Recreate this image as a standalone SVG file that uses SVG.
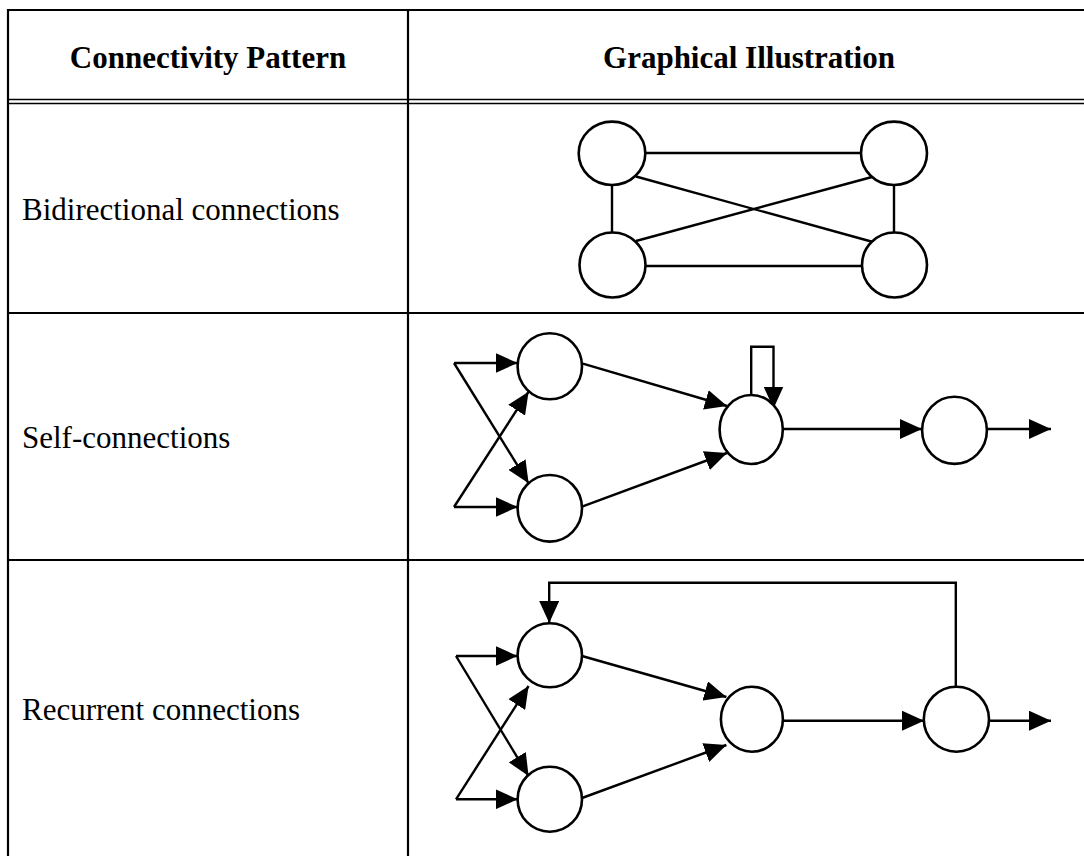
<svg xmlns="http://www.w3.org/2000/svg" width="1084" height="858" viewBox="0 0 1084 858">
<style>
.grid{stroke:#000;stroke-width:2.2;fill:none}
.hdr{font-family:"Liberation Serif","Times New Roman",serif;font-size:31px;font-weight:bold;fill:#000}
.lbl{font-family:"Liberation Serif","Times New Roman",serif;font-size:31px;fill:#000}
.node{fill:#fff;stroke:#000;stroke-width:2.6}
.edge{stroke:#000;stroke-width:2.4;fill:none}
.arr{marker-end:url(#ah)}
</style>
<defs>
<marker id="ah" markerUnits="userSpaceOnUse" markerWidth="22" markerHeight="20" refX="22" refY="10" orient="auto">
<path d="M0,0 L22,10 L0,20 z" fill="#000"/>
</marker>
</defs>
<rect width="1084" height="858" fill="#fff"/>
<g id="table">
<line class="grid" x1="8" y1="10" x2="1084" y2="10"/>
<line class="grid" x1="8" y1="99.5" x2="1084" y2="99.5" style="stroke-width:1.7"/>
<line class="grid" x1="8" y1="103.5" x2="1084" y2="103.5" style="stroke-width:1.7"/>
<line class="grid" x1="8" y1="313" x2="1084" y2="313"/>
<line class="grid" x1="8" y1="560" x2="1084" y2="560"/>
<line class="grid" x1="8" y1="9" x2="8" y2="856"/>
<line class="grid" x1="408" y1="9" x2="408" y2="856"/>
<text class="hdr" x="208" y="68" text-anchor="middle">Connectivity Pattern</text>
<text class="hdr" x="749" y="68" text-anchor="middle">Graphical Illustration</text>
<text class="lbl" x="22" y="220">Bidirectional connections</text>
<text class="lbl" x="22" y="448">Self-connections</text>
<text class="lbl" x="22" y="720">Recurrent connections</text>
</g>
<g id="connectors">
<line class="edge" x1="645" y1="153" x2="861" y2="153"/>
<line class="edge" x1="645" y1="266" x2="861" y2="266"/>
<line class="edge" x1="612" y1="185" x2="612" y2="233"/>
<line class="edge" x1="894" y1="185" x2="894" y2="233"/>
<line class="edge" x1="636" y1="176.5" x2="873" y2="242"/>
<line class="edge" x1="636" y1="241" x2="872" y2="177"/>
<line class="edge arr" x1="454" y1="363" x2="517.6" y2="363"/>
<line class="edge arr" x1="454" y1="507" x2="517.6" y2="507"/>
<line class="edge arr" x1="454" y1="363" x2="528.6" y2="483.3"/>
<line class="edge arr" x1="454" y1="507" x2="528.6" y2="391.7"/>
<line class="edge arr" x1="582" y1="363.3" x2="727" y2="406"/>
<line class="edge arr" x1="582" y1="506.7" x2="727" y2="453"/>
<polyline class="edge arr" points="751.2,395 751.2,346.7 773.5,346.7 773.5,408.5"/>
<line class="edge arr" x1="783" y1="429" x2="922" y2="429"/>
<line class="edge arr" x1="987" y1="429" x2="1051" y2="429"/>
<line class="edge arr" x1="456" y1="656" x2="517.6" y2="656"/>
<line class="edge arr" x1="456" y1="799.3" x2="517.6" y2="799.3"/>
<line class="edge arr" x1="456" y1="656" x2="528.6" y2="776"/>
<line class="edge arr" x1="456" y1="799.3" x2="528.6" y2="686"/>
<line class="edge arr" x1="582" y1="656" x2="726.4" y2="697"/>
<line class="edge arr" x1="582" y1="798" x2="726.4" y2="745"/>
<polyline class="edge arr" points="955.8,686.7 955.8,582.7 549.2,582.7 549.2,623"/>
<line class="edge arr" x1="783" y1="720.7" x2="924" y2="720.7"/>
<line class="edge arr" x1="989" y1="720.7" x2="1051" y2="720.7"/>
</g>
<g id="r1-tl"><ellipse class="node" cx="612" cy="153.3" rx="33.3" ry="31.7"/></g>
<g id="r1-tr"><ellipse class="node" cx="894" cy="153.3" rx="33" ry="31.7"/></g>
<g id="r1-bl"><ellipse class="node" cx="612.5" cy="265" rx="33" ry="32.5"/></g>
<g id="r1-br"><ellipse class="node" cx="894.5" cy="265" rx="32.5" ry="32.5"/></g>
<g id="r2-a"><ellipse class="node" cx="549.8" cy="366.3" rx="32.2" ry="33"/></g>
<g id="r2-b"><ellipse class="node" cx="549.8" cy="508.3" rx="32.2" ry="33.3"/></g>
<g id="r2-c"><ellipse class="node" cx="751.2" cy="429.5" rx="31.6" ry="34.5"/></g>
<g id="r2-d"><ellipse class="node" cx="954.5" cy="430.3" rx="32.4" ry="33.6"/></g>
<g id="r3-a"><ellipse class="node" cx="549.8" cy="655.3" rx="32.2" ry="32"/></g>
<g id="r3-b"><ellipse class="node" cx="549.8" cy="799.2" rx="32.2" ry="32.5"/></g>
<g id="r3-c"><ellipse class="node" cx="751.9" cy="719.2" rx="31" ry="32.5"/></g>
<g id="r3-d"><ellipse class="node" cx="956.4" cy="719.2" rx="32.6" ry="32.5"/></g>
</svg>
